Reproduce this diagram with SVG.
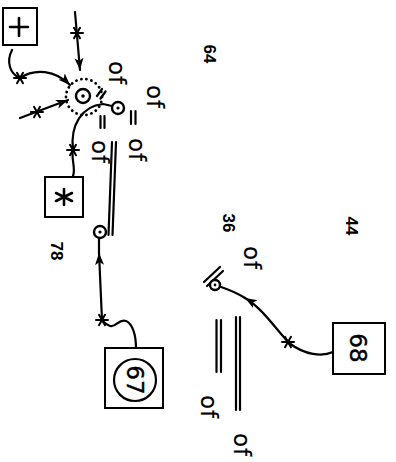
<svg xmlns="http://www.w3.org/2000/svg" width="396" height="462" viewBox="0 0 396 462">
<style>
.ln{fill:none;stroke:#000;stroke-width:2.2;stroke-linecap:round;stroke-linejoin:round}
.bx{fill:#fff;stroke:#000;stroke-width:2}
.nd{fill:#fff;stroke:#000;stroke-width:2.4}
.dot{fill:#000}
.num{font-family:"Liberation Sans",Arial,sans-serif;font-size:17px;font-weight:bold;fill:#000}
.lab{font-family:"DejaVu Sans","Liberation Sans",sans-serif;font-size:23px;fill:#000;stroke:#000;stroke-width:0.2;letter-spacing:1px}
.sym{font-family:"DejaVu Sans","Liberation Sans",sans-serif;fill:#000;stroke:#000;stroke-width:0.4}
.dots{fill:none;stroke:#000;stroke-width:2.8;stroke-linecap:round;stroke-dasharray:0.1 5}
</style>
<defs>
<marker id="ah" markerUnits="userSpaceOnUse" markerWidth="14" markerHeight="10" refX="12" refY="4.5" orient="auto">
<path d="M0,0 L12,4.5 L0,9 L3,4.5 z" fill="#000"/>
</marker>
<g id="st" class="ln" style="stroke-width:2">
<line x1="-6" y1="0" x2="6" y2="0"/>
<line x1="-3" y1="-5.2" x2="3" y2="5.2"/>
<line x1="3" y1="-5.2" x2="-3" y2="5.2"/>
</g>
</defs>

<g id="connectors">
<path class="ln" d="M12,50 C6,62 10,74 20,78 C35,68 55,70 70,85" marker-end="url(#ah)"/>
<path class="ln" d="M75,12 L80,70" marker-end="url(#ah)"/>
<path class="ln" d="M20,118 L68,100" marker-end="url(#ah)"/>
<path class="ln" d="M73,176 C76,168 71,160 73,150 C70,125 82,106 103,104 L112,106"/>
<path class="ln" d="M136,348 C136,336 133,324 126,321 C119,318 116,328 110,326 C106,325 104,322 102,320 L99,253" marker-end="url(#ah)"/>
<path class="ln" d="M99,253 L99,239"/>
<path class="ln" d="M333,352 C322,357 305,355 289,343 C275,328 262,308 245,298" marker-end="url(#ah)"/>
<path class="ln" d="M245,298 C237,293 230,290 221,287"/>
<use href="#st" x="20" y="78"/>
<use href="#st" x="77" y="33"/>
<use href="#st" x="37" y="112"/>
<use href="#st" x="73" y="150"/>
<use href="#st" x="102" y="320"/>
<use href="#st" x="288" y="342"/>
<path class="ln" d="M112,142 L108.5,235 M116,142 L112.5,235"/>
<path class="ln" d="M236,317 L236,410 M240,317 L240,410"/>
<path class="ln" d="M216.5,320 L216.5,372 M221,320 L221,372"/>
<path class="ln" d="M97,96 L102,89 M100.5,98.5 L105.5,91.5"/>
<path class="ln" d="M100.5,116 L100.5,128 M104.5,116 L104.5,128"/>
<path class="ln" d="M131,111 L131,124 M135.5,111 L135.5,124"/>
<path class="ln" d="M220,267 L204,282 M223,271 L207,286"/>
</g>

<g id="node-plus">
<rect class="bx" x="3" y="8" width="34" height="37"/>
<path class="ln" style="stroke-width:2.6" d="M19,18 L19,36 M10,27 L28,27"/>
</g>

<g id="node-c1">
<circle class="dots" cx="84" cy="97" r="18"/>
<circle class="nd" cx="83" cy="96" r="7"/>
<circle class="dot" cx="83" cy="96" r="1.8"/>
</g>

<g id="node-c2">
<circle class="nd" cx="118" cy="108" r="6"/>
<circle class="dot" cx="118" cy="108" r="1.6"/>
</g>

<g id="node-star">
<rect class="bx" x="45" y="177" width="38" height="40"/>
<path class="ln" style="stroke-width:2.6" d="M64,189 L64,205 M56,193 L72,201 M72,193 L56,201"/>
</g>

<g id="node-c3">
<circle class="nd" cx="100" cy="232" r="6"/>
<circle class="dot" cx="100" cy="232" r="1.6"/>
</g>

<g id="node-67">
<rect class="bx" x="105" y="348" width="58" height="60"/>
<circle class="ln" cx="135" cy="380" r="21"/>
<text class="sym" transform="translate(135,380) rotate(90)" font-size="23" text-anchor="middle" dominant-baseline="central">67</text>
</g>

<g id="node-c4">
<circle class="nd" cx="215" cy="285" r="5"/>
<circle class="dot" cx="215" cy="285" r="1.4"/>
</g>

<g id="node-68">
<rect class="bx" x="333" y="323" width="52" height="51"/>
<text class="sym" transform="translate(358,348) rotate(90)" font-size="23" text-anchor="middle" dominant-baseline="central">68</text>
</g>

<g id="labels">
<text class="num" transform="translate(209,54) rotate(90)" text-anchor="middle" dominant-baseline="central">64</text>
<text class="num" transform="translate(228,223) rotate(90)" text-anchor="middle" dominant-baseline="central">36</text>
<text class="num" transform="translate(351,226) rotate(90)" text-anchor="middle" dominant-baseline="central">44</text>
<text class="num" transform="translate(56,251) rotate(90)" text-anchor="middle" dominant-baseline="central">78</text>
<text class="lab" transform="translate(117,73) rotate(90)" text-anchor="middle" dominant-baseline="central">of</text>
<text class="lab" transform="translate(155,97) rotate(90)" text-anchor="middle" dominant-baseline="central">of</text>
<text class="lab" transform="translate(100,152) rotate(90)" text-anchor="middle" dominant-baseline="central">of</text>
<text class="lab" transform="translate(137,150) rotate(90)" text-anchor="middle" dominant-baseline="central">of</text>
<text class="lab" transform="translate(252,258) rotate(90)" text-anchor="middle" dominant-baseline="central">of</text>
<text class="lab" transform="translate(209,407) rotate(90)" text-anchor="middle" dominant-baseline="central">of</text>
<text class="lab" transform="translate(242,445) rotate(90)" text-anchor="middle" dominant-baseline="central">of</text>
</g>
</svg>
